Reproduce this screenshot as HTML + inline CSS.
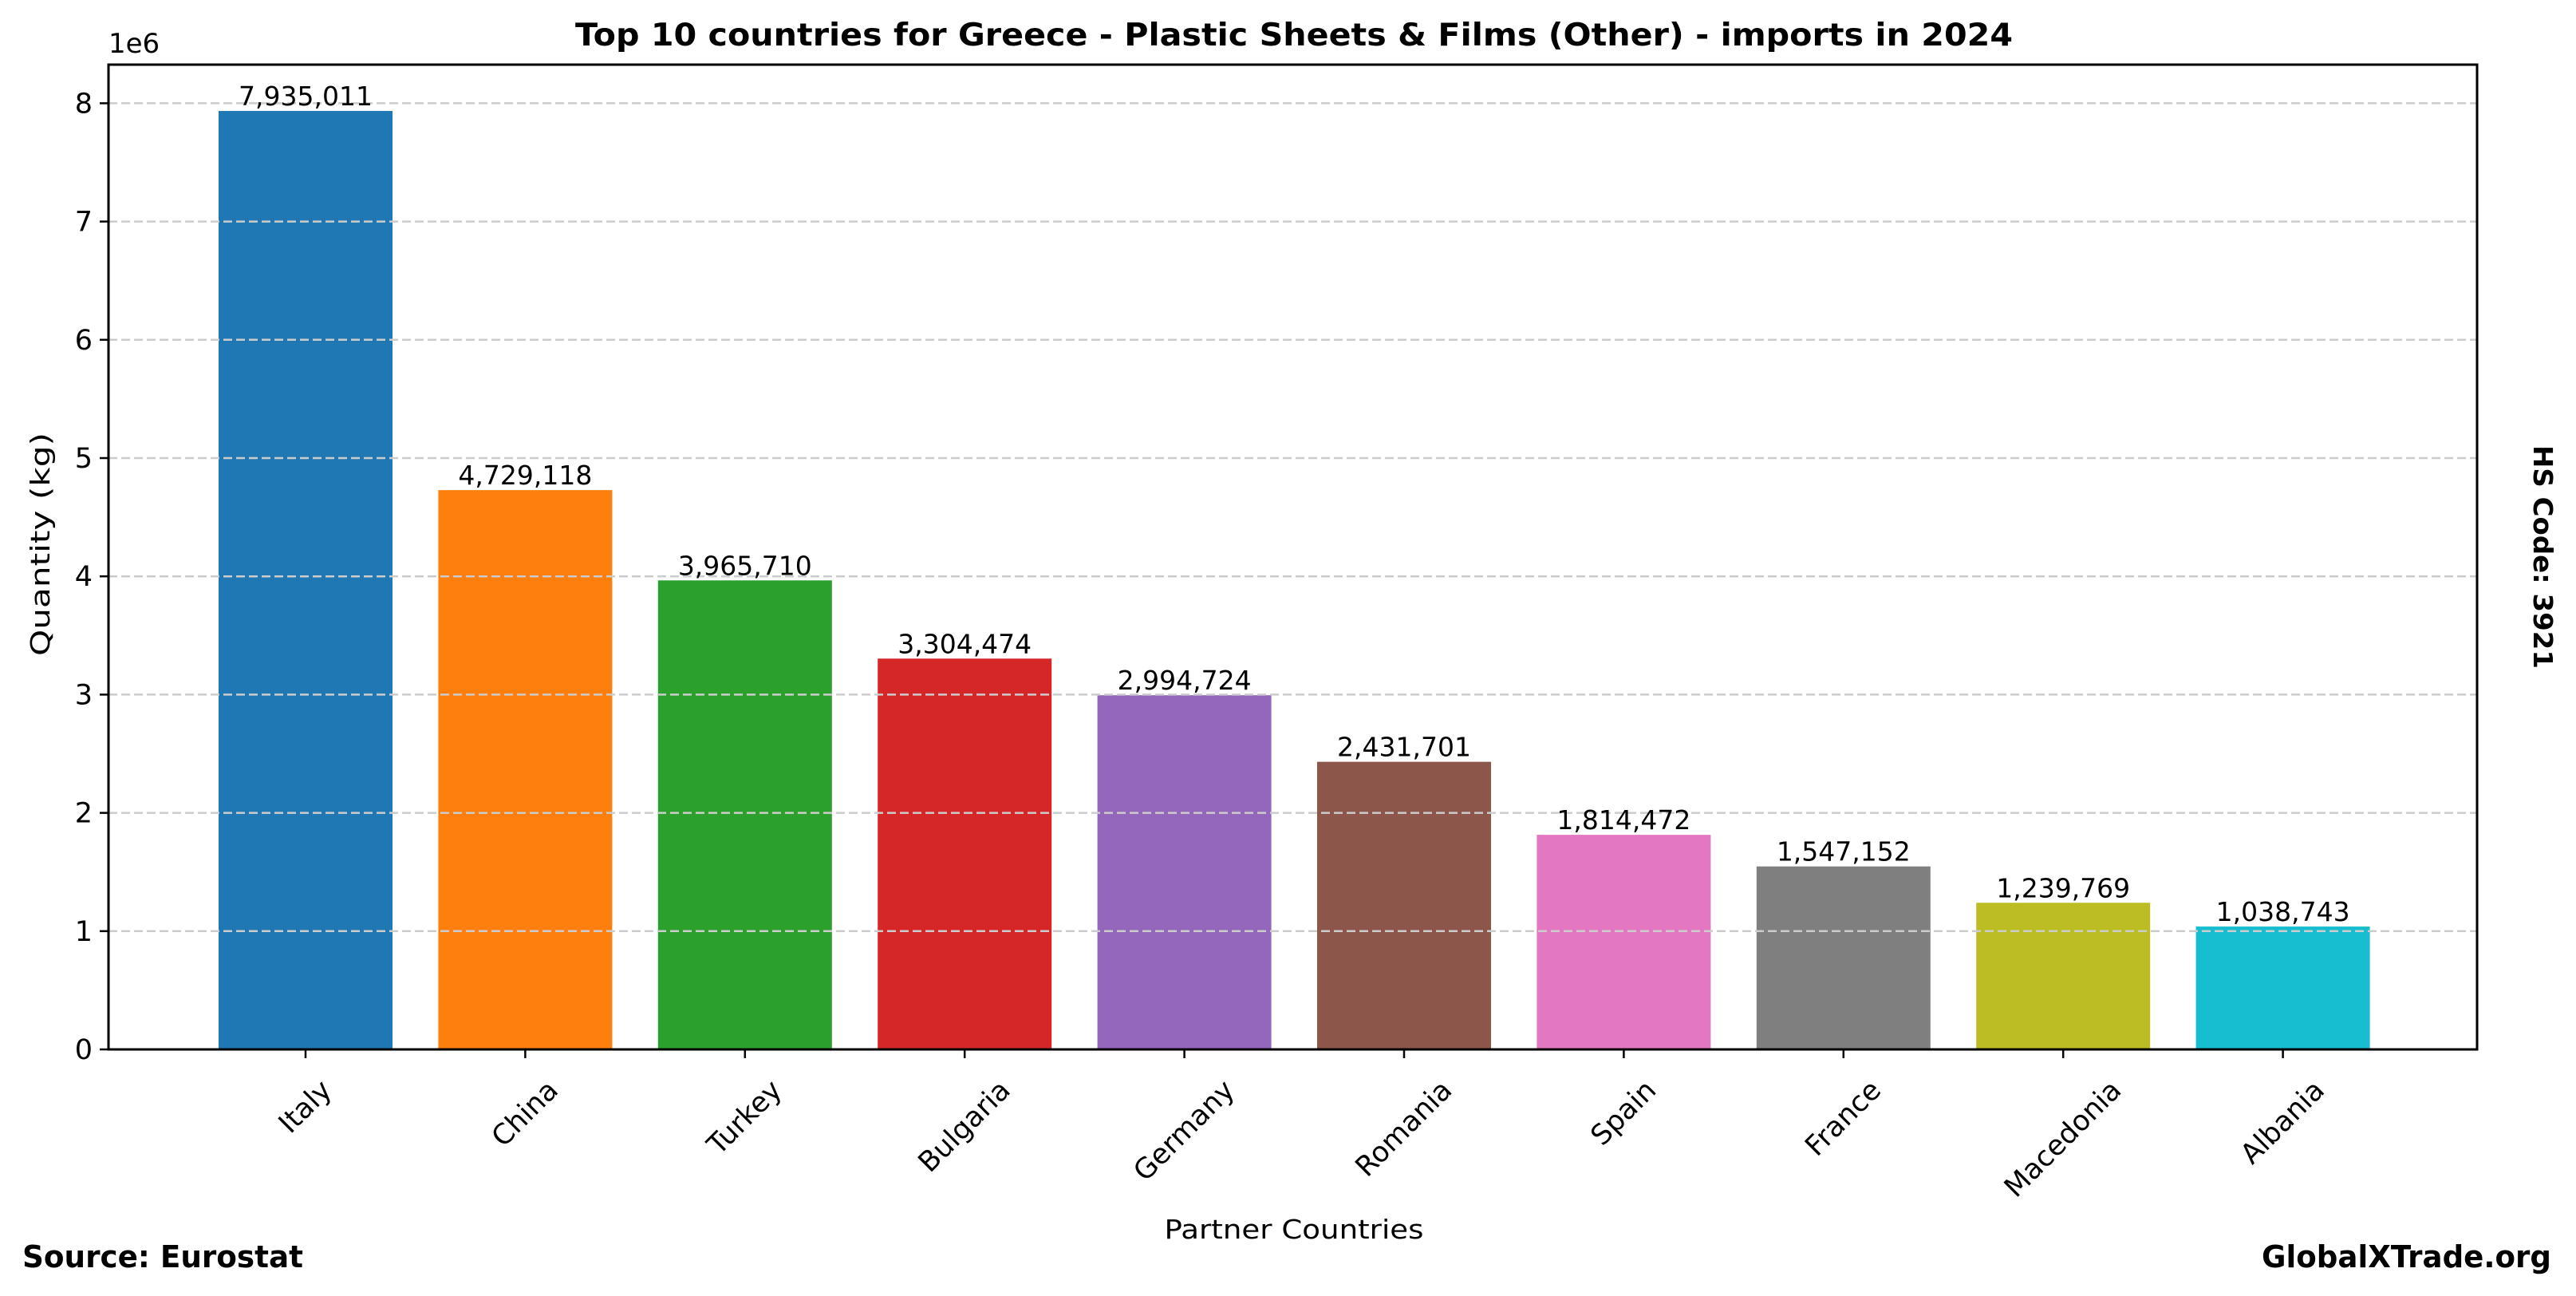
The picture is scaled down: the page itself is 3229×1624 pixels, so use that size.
<!DOCTYPE html>
<html><head><meta charset="utf-8"><style>
html,body{margin:0;padding:0;background:#fff;}
svg{display:block;font-family:"DejaVu Sans","Liberation Sans",sans-serif;}
</style></head><body>
<svg id="s" width="3229" height="1624" viewBox="0 0 3229 1624" xmlns="http://www.w3.org/2000/svg">
<rect width="3229" height="1624" fill="#fff"/>
<g id="bars"></g>
<g id="grid" stroke="#cccccc" stroke-width="2.5" stroke-dasharray="11,5"></g>
<rect x="136" y="81" width="2969" height="1234" fill="none" stroke="#000" stroke-width="3"/>
<g id="ticks"></g>
<text x="1622" y="57" text-anchor="middle" font-weight="bold" font-size="39" textLength="1802" lengthAdjust="spacingAndGlyphs">Top 10 countries for Greece - Plastic Sheets &amp; Films (Other) - imports in 2024</text>
<text x="136" y="66" font-size="34">1e6</text>
<text transform="translate(62,682) rotate(-90)" text-anchor="middle" font-size="33" textLength="280" lengthAdjust="spacingAndGlyphs">Quantity (kg)</text>
<text x="1622" y="1552" text-anchor="middle" font-size="33" textLength="325" lengthAdjust="spacingAndGlyphs">Partner Countries</text>
<text transform="translate(3176,698) rotate(90)" text-anchor="middle" font-weight="bold" font-size="33" textLength="280" lengthAdjust="spacingAndGlyphs">HS Code: 3921</text>
<text x="28" y="1588" font-weight="bold" font-size="38" textLength="352" lengthAdjust="spacingAndGlyphs">Source: Eurostat</text>
<text x="3198" y="1588" text-anchor="end" font-weight="bold" font-size="38" textLength="363" lengthAdjust="spacingAndGlyphs">GlobalXTrade.org</text>
</svg>
<script>
var NS="http://www.w3.org/2000/svg";
var data=[["Italy",7935011,"#1f77b4"],["China",4729118,"#ff7f0e"],["Turkey",3965710,"#2ca02c"],["Bulgaria",3304474,"#d62728"],["Germany",2994724,"#9467bd"],["Romania",2431701,"#8c564b"],["Spain",1814472,"#e377c2"],["France",1547152,"#7f7f7f"],["Macedonia",1239769,"#bcbd22"],["Albania",1038743,"#17becf"]];
var Y0=1315,U=148.2,C0=383,STEP=275.4,BW=218;
function el(t,a,p,txt){var e=document.createElementNS(NS,t);for(var k in a)e.setAttribute(k,a[k]);if(txt!==undefined)e.textContent=txt;p.appendChild(e);return e;}
var bars=document.getElementById("bars"),grid=document.getElementById("grid"),ticks=document.getElementById("ticks");
for(var i=1;i<=8;i++){var y=Y0-i*U;el("line",{x1:136,x2:3105,y1:y,y2:y},grid);}
for(var i=0;i<=8;i++){var y=Y0-i*U;el("line",{x1:125,x2:136,y1:y,y2:y,stroke:"#000","stroke-width":2.5},ticks);
el("text",{x:116,y:y+12,"text-anchor":"end","font-size":35},ticks,""+i);}
data.forEach(function(d,i){var cx=C0+i*STEP,h=d[1]/1e6*U;
el("rect",{x:cx-BW/2,y:Y0-h,width:BW,height:h,fill:d[2]},bars);
el("text",{x:cx,y:Y0-h-7,"text-anchor":"middle","font-size":33},ticks,d[1].toLocaleString("en-US"));
el("line",{x1:cx,x2:cx,y1:Y0,y2:Y0+11,stroke:"#000","stroke-width":2.5},ticks);
var t=el("text",{"text-anchor":"middle","font-size":35,"dominant-baseline":"central"},ticks,d[0]);
var w=t.getComputedTextLength();var hh=(w+35)*0.7071;
t.setAttribute("transform","translate("+cx+","+(1348+hh/2)+") rotate(-45)");
});
</script>
</body></html>
